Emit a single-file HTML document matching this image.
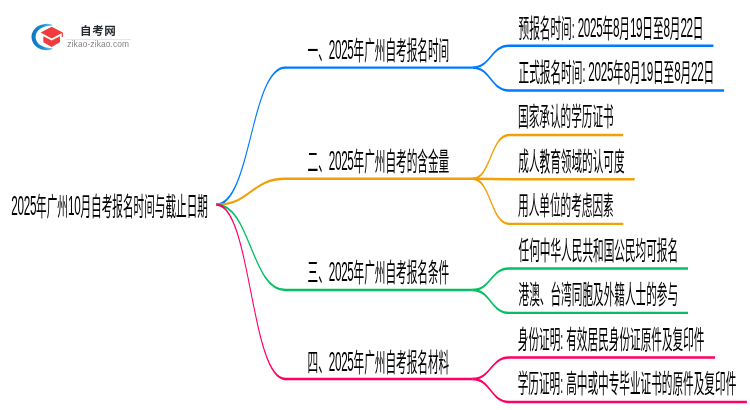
<!DOCTYPE html>
<html lang="zh-CN">
<head>
<meta charset="utf-8">
<title>2025年广州10月自考报名时间与截止日期</title>
<style>
html,body{margin:0;padding:0;background:#fff;}
body{width:750px;height:410px;overflow:hidden;}
svg{display:block;will-change:transform;}
#links path{fill:none;stroke-width:2.4;}
.t{font-family:"Liberation Sans", "Noto Sans CJK SC", sans-serif;font-size:25.6px;font-weight:400;fill:#000;white-space:pre;}
.t .d{font-size:28.2px;letter-spacing:-0.76px;baseline-shift:1.0px;}
.lg1{font-family:"Noto Sans CJK SC", "Liberation Sans", sans-serif;font-weight:700;font-size:11.5px;fill:#262b33;letter-spacing:0.6px;}
.lg2{font-family:"Liberation Sans", "Noto Sans CJK SC", sans-serif;font-size:8.4px;fill:#858585;letter-spacing:0.12px;}
</style>
</head>
<body>
<svg width="750" height="410" viewBox="0 0 750 410">
<rect width="750" height="410" fill="#fff"/>
<g id="logo">
<defs><linearGradient id="lgb" x1="0" y1="0" x2="1" y2="0"><stop offset="0" stop-color="#0b76bf"/><stop offset="0.55" stop-color="#1a8ed4"/><stop offset="1" stop-color="#7cc8ef"/></linearGradient></defs>
<path d="M52.2,24.7 A15.2,13.2 0 1 0 52.2,49.3 L52.2,47.9 A14.7,11.1 0 1 1 52.2,25.9Z" fill="url(#lgb)"/>
<path d="M51.65,26.8 L62.9,32.45 L51.65,38.4 L40.6,32.45Z" fill="#f03c3c"/>
<path d="M43.35,36.2 L51.65,40.6 L59.95,36.2 L59.95,42.2 L51.65,47 L43.35,42.2Z" fill="#f03c3c"/>
<rect x="61.7" y="32.6" width="1.2" height="4.4" fill="#f03c3c"/>
<text x="80.1" y="35" class="lg1">自考网</text>
<rect x="65.9" y="39.2" width="65" height="0.6" fill="#d4d4d4"/>
<text x="67.3" y="47.3" class="lg2">zikao-zikao.com</text>
</g>
<g id="map" transform="scale(0.4155,1)">
<g id="links">
<g stroke="#007bff">
<path d="M520.8,204.6C603.7,204.6 603.7,67.6 686.6,67.6" stroke-width="3.4"/>
<path d="M685.6,67.6H1137.2" stroke-width="2.6"/>
<path d="M1137.2,67.6C1181.1,67.6 1181.1,45.8 1225.0,45.8H1717.0"/>
<path d="M1137.2,67.6C1181.1,67.6 1181.1,90.5 1225.0,90.5H1742.7"/>
</g>
<g stroke="#f2a007">
<path d="M520.8,204.6C603.7,204.6 603.7,178.8 686.6,178.8" stroke-width="3.4"/>
<path d="M685.6,178.8H1137.2" stroke-width="2.6"/>
<path d="M1137.2,178.8C1181.1,178.8 1181.1,135.0 1225.0,135.0H1499.6"/>
<path d="M1137.2,178.8C1181.1,178.8 1181.1,179.3 1225.0,179.3H1527.3"/>
<path d="M1137.2,178.8C1181.1,178.8 1181.1,223.9 1225.0,223.9H1500.1"/>
</g>
<g stroke="#04c063">
<path d="M520.8,204.6C603.7,204.6 603.7,290.0 686.6,290.0" stroke-width="3.4"/>
<path d="M685.6,290.0H1137.2" stroke-width="2.6"/>
<path d="M1137.2,290.0C1181.1,290.0 1181.1,268.5 1225.0,268.5H1655.8"/>
<path d="M1137.2,290.0C1181.1,290.0 1181.1,312.9 1225.0,312.9H1655.8"/>
</g>
<g stroke="#ff0066">
<path d="M520.8,204.6C603.7,204.6 603.7,379.0 686.6,379.0" stroke-width="3.4"/>
<path d="M685.6,379.0H1137.2" stroke-width="2.6"/>
<path d="M1137.2,379.0C1181.1,379.0 1181.1,357.5 1225.0,357.5H1720.8"/>
<path d="M1137.2,379.0C1181.1,379.0 1181.1,402.0 1225.0,402.0H1797.6"/>
</g>
</g>
<g id="labels">
<text class="t" x="27.2" y="216.0"><tspan class="d">2025</tspan>年广州<tspan class="d">10</tspan>月自考报名时间与截止日期</text>
<text class="t" x="740.1" y="60.0">一、<tspan class="d">2025</tspan>年广州自考报名时间</text>
<text class="t" x="1248.1" y="38.0">预报名时间: <tspan class="d">2025</tspan>年<tspan class="d">8</tspan>月<tspan class="d">19</tspan>日至<tspan class="d">8</tspan>月<tspan class="d">22</tspan>日</text>
<text class="t" x="1248.1" y="82.0">正式报名时间: <tspan class="d">2025</tspan>年<tspan class="d">8</tspan>月<tspan class="d">19</tspan>日至<tspan class="d">8</tspan>月<tspan class="d">22</tspan>日</text>
<text class="t" x="740.1" y="171.0">二、<tspan class="d">2025</tspan>年广州自考的含金量</text>
<text class="t" x="1246.7" y="126.0">国家承认的学历证书</text>
<text class="t" x="1247.4" y="171.0">成人教育领域的认可度</text>
<text class="t" x="1246.7" y="215.0">用人单位的考虑因素</text>
<text class="t" x="740.1" y="282.0">三、<tspan class="d">2025</tspan>年广州自考报名条件</text>
<text class="t" x="1248.1" y="260.0">任何中华人民共和国公民均可报名</text>
<text class="t" x="1248.1" y="304.0">港澳、台湾同胞及外籍人士的参与</text>
<text class="t" x="740.1" y="372.0">四、<tspan class="d">2025</tspan>年广州自考报名材料</text>
<text class="t" x="1246.2" y="349.0">身份证明: 有效居民身份证原件及复印件</text>
<text class="t" x="1246.0" y="393.0">学历证明: 高中或中专毕业证书的原件及复印件</text>
</g>
</g>
</svg>
</body>
</html>
